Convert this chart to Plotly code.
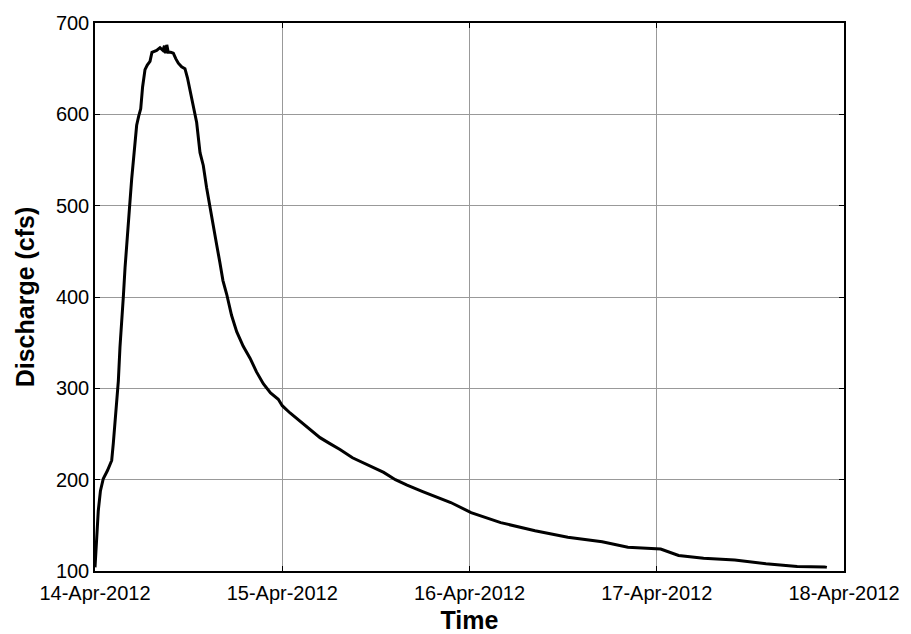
import plotly.graph_objects as go
import pandas as pd

# Hours after 14-Apr-2012 00:00 and discharge (cfs)
hours = [0.0, 0.15, 0.42, 0.7, 1.06, 1.6, 2.14, 2.35, 2.56, 2.8, 2.99, 3.2, 3.42, 3.63, 3.85,
         4.06, 4.4, 4.7, 5.0, 5.34, 5.6, 5.86, 6.1, 6.41, 6.7, 7.05, 7.3, 7.6, 7.9, 8.33,
         8.7, 8.9, 9.05, 9.2, 9.39, 9.7, 10.04, 10.35, 10.68, 11.1, 11.53, 11.85, 12.18,
         12.6, 13.03, 13.46, 13.88, 14.3, 14.74, 15.2, 15.6, 16.0, 16.4, 16.88, 17.5,
         18.16, 19.0, 19.87, 20.7, 21.57, 22.5, 23.49, 24.0, 25.0, 26.27, 27.5, 28.84,
         30.0, 31.4, 33.0, 35.0, 37.0, 38.5, 40.0, 42.0, 44.0, 45.6, 48.2, 52.0, 56.4,
         60.6, 65.0, 68.3, 72.5, 74.8, 78.0, 82.0, 86.0, 90.0, 93.5, 93.8]
discharge = [104, 130, 166, 188, 201, 210, 221, 240, 264, 285, 308, 345, 381, 400, 432,
             460, 495, 529, 560, 588, 598, 606, 630, 649, 654, 658, 668, 669, 670, 673,
             670, 675, 667, 676, 668, 668, 667, 661, 656, 652, 650, 640, 627,
             610, 591, 558, 544, 520, 500, 478, 457, 438, 418, 403, 380,
             362, 346, 333, 318, 305, 295, 288, 281, 273, 264, 255, 246,
             240, 233, 224, 216, 208, 200, 194, 187, 180, 175, 164, 153, 144,
             137, 132, 126, 124, 117, 114, 112, 108, 105, 104.5, 104]

start = pd.Timestamp("2012-04-14 00:00")
times = [start + pd.Timedelta(hours=h) for h in hours]

tick_dates = ["2012-04-14", "2012-04-15", "2012-04-16", "2012-04-17", "2012-04-18"]
tick_labels = ["14-Apr-2012", "15-Apr-2012", "16-Apr-2012", "17-Apr-2012", "18-Apr-2012"]
y_ticks = [100, 200, 300, 400, 500, 600, 700]

fig = go.Figure()
fig.add_trace(go.Scatter(x=times, y=discharge, mode="lines",
                         line=dict(color="black", width=3), showlegend=False))

font_family = "Liberation Sans, Arial, sans-serif"
fig.update_layout(
    width=911, height=634,
    margin=dict(l=95, r=67, t=20, b=63),
    paper_bgcolor="white", plot_bgcolor="white",
    font=dict(family=font_family, size=20, color="black"),
)
fig.update_xaxes(
    range=[tick_dates[0], tick_dates[-1]],
    tickvals=tick_dates, ticktext=tick_labels,
    showgrid=True, gridcolor="#999999", gridwidth=1,
    showline=True, linecolor="black", linewidth=1.5, mirror="allticks",
    ticks="inside", ticklen=5, tickcolor="black",
    ticklabelstandoff=3,
    zeroline=False, automargin=False,
    title=dict(text="Time", font=dict(size=25, weight="bold"), standoff=9),
)
fig.update_yaxes(
    range=[100, 700], tickvals=y_ticks,
    showgrid=True, gridcolor="#999999", gridwidth=1,
    showline=True, linecolor="black", linewidth=1.5, mirror="allticks",
    ticks="inside", ticklen=5, tickcolor="black",
    zeroline=False,
    title=dict(text="Discharge (cfs)", font=dict(size=25, weight="bold"), standoff=14),
)

fig.write_html("out.html")
